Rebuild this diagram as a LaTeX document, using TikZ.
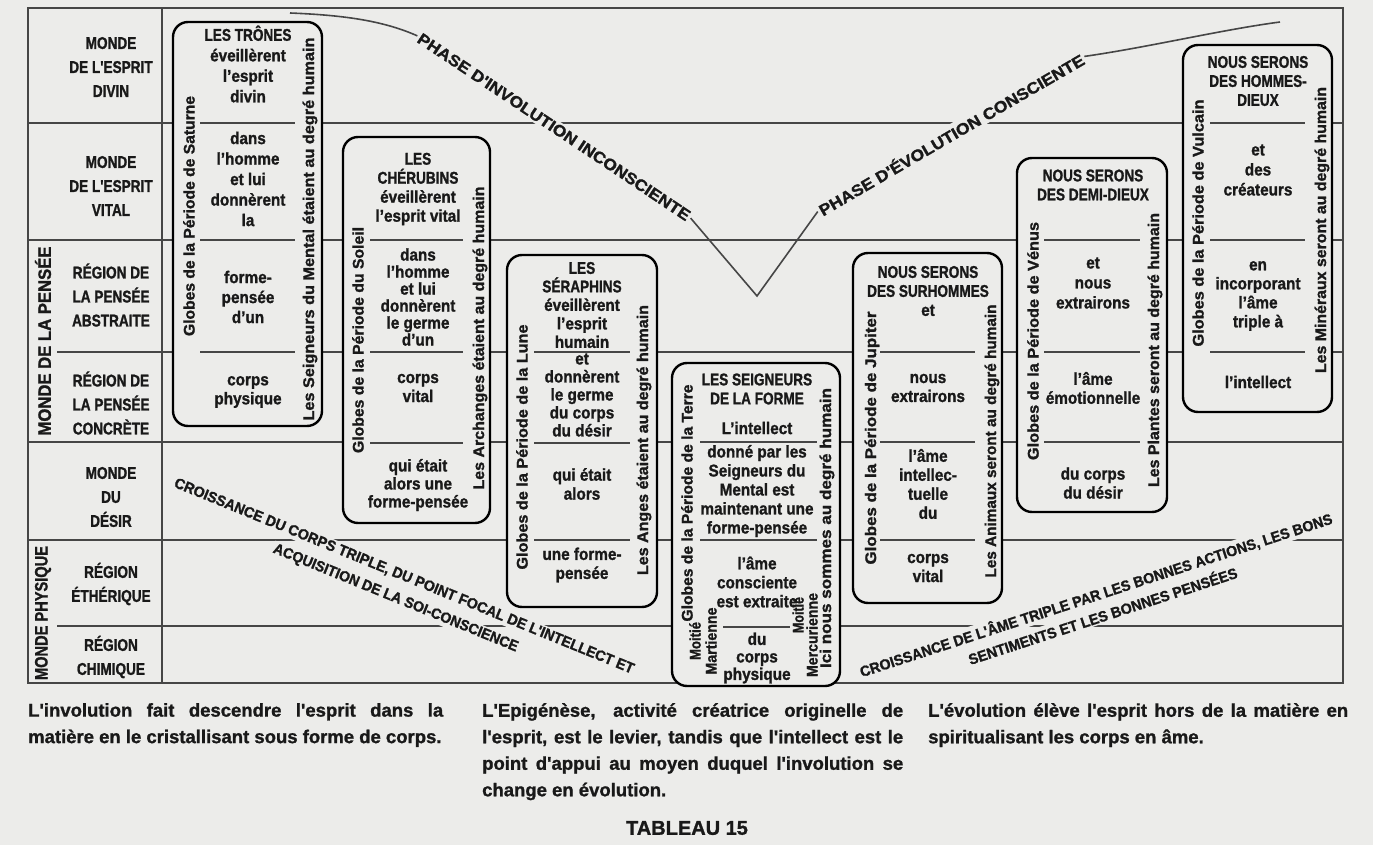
\documentclass[tikz,border=0pt]{standalone}
\usepackage{fontspec}
\setmainfont{Liberation Sans}[FakeStretch=0.9, BoldFeatures={FakeBold=1.2}]
\newfontfamily\capf{Liberation Sans}[FakeStretch=0.8, BoldFeatures={FakeBold=1.2}]
\newfontfamily\plainf{Liberation Sans}[BoldFeatures={FakeBold=1.2}]
\usepackage{graphicx}
\definecolor{bg}{RGB}{236,236,234}
\definecolor{ln}{RGB}{70,70,70}
\definecolor{ink}{RGB}{25,25,25}
\newcommand{\fitw}[2]{\resizebox{#1pt}{\height}{#2}}
\newcommand{\bx}{\bfseries\fontsize{17}{19}\selectfont}
\begin{document}
\begin{tikzpicture}[x=1pt,y=-1pt,
  tline/.style={draw=ln, line width=1.8pt},
  boxst/.style={draw=black, line width=2.4pt, rounded corners=15pt, fill=bg},
  divl/.style={draw=ln, line width=1.6pt},
  btxt/.style={font=\bx, align=center, text=ink, inner sep=0pt},
  vtxt/.style={rotate=90, font=\bfseries\fontsize{15.5}{15.5}\selectfont, text=ink, inner sep=0pt},
  lbl/.style={font=\bfseries\capf\fontsize{17}{24}\selectfont, align=center, text=ink, inner sep=0pt},
  vlbl/.style={rotate=90, font=\bfseries\capf\fontsize{18}{18}\selectfont, text=ink, inner sep=0pt},
  phase/.style={font=\bfseries\capf\fontsize{16}{16}\selectfont, text=ink, fill=bg, inner sep=2pt},
  diag/.style={font=\bfseries\capf\fontsize{15}{15}\selectfont, text=ink, fill=bg, inner sep=1.5pt},
  para/.style={font=\bfseries\plainf\fontsize{18.5}{26.5}\selectfont, text=ink, align=justify, inner sep=0pt, anchor=north west},
  arm/.style={draw=ln, line width=1.6pt}
]
\path[fill=bg] (0,0) rectangle (1373,845);
\useasboundingbox (0,0) rectangle (1373,845);

% table grid
\draw[tline] (28,8) rectangle (1343,683);
\draw[tline] (162,8) -- (162,683);
\foreach \yy in {123,240,442,540} {\draw[tline] (28,\yy) -- (1343,\yy);}
\foreach \yy in {352,626} {\draw[tline] (57,\yy) -- (1343,\yy);}

% left labels
\node[lbl] (l1) at (111,67) {MONDE\\DE L'ESPRIT\\DIVIN};
\node[lbl] (l2) at (111,186) {MONDE\\DE L'ESPRIT\\VITAL};
\node[lbl] (l3) at (111,295) {RÉGION DE\\LA PENSÉE\\ABSTRAITE};
\node[lbl] (l4) at (111,403) {RÉGION DE\\LA PENSÉE\\CONCRÈTE};
\node[lbl] (l5) at (111,497) {MONDE\\DU\\DÉSIR};
\node[lbl] (l6) at (111,584) {RÉGION\\ÉTHÉRIQUE};
\node[lbl] (l7) at (111,657) {RÉGION\\CHIMIQUE};
\node[vlbl] (v1) at (43,341) {\fitw{189}{MONDE DE LA PENSÉE}};
\node[vlbl] (v2) at (43,613) {\fitw{134}{MONDE PHYSIQUE}};

% boxes
\path[boxst] (173,22) rectangle (322,426);
\path[boxst] (343,137) rectangle (490,523);
\path[boxst] (507,255) rectangle (657,607);
\path[boxst] (672,363) rectangle (840,686);
\path[boxst] (853,253) rectangle (1002,603);
\path[boxst] (1017,158) rectangle (1167,512);
\path[boxst] (1183,45) rectangle (1332,412);

% inner dividers
\foreach \yy in {123,240,352} {\draw[divl] (200,\yy) -- (295,\yy);}
\foreach \yy in {240,352,443} {\draw[divl] (370,\yy) -- (463,\yy);}
\foreach \yy in {352,443,540} {\draw[divl] (534,\yy) -- (630,\yy);}
\foreach \yy in {442,540} {\draw[divl] (700,\yy) -- (817,\yy);}
\draw[divl] (723,627) -- (790,627);
\foreach \yy in {352,442,540} {\draw[divl] (880,\yy) -- (975,\yy);}
\foreach \yy in {240,352,442} {\draw[divl] (1044,\yy) -- (1140,\yy);}
\foreach \yy in {123,240,352} {\draw[divl] (1210,\yy) -- (1305,\yy);}

% box 1
\node[vtxt] (g1) at (189,216) {\fitw{240}{Globes de la Période de Saturne}};
\node[vtxt] (h1) at (310,229) {\fitw{383}{Les Seigneurs du Mental étaient au degré humain}};
\node[btxt, font=\bfseries\fontsize{17}{20.5}\selectfont] (t1a) at (248,64) {{\capf LES TRÔNES}\\éveillèrent\\l'esprit\\divin};
\node[btxt, font=\bfseries\fontsize{17}{20.5}\selectfont] (t1b) at (248,179) {dans\\l'homme\\et lui\\donnèrent\\la};
\node[btxt, font=\bfseries\fontsize{17}{20}\selectfont] (t1c) at (248,297) {forme-\\pensée\\d'un};
\node[btxt] (t1d) at (248,392) {corps\\physique};

% box 2
\node[vtxt] (g2) at (358,340) {\fitw{226}{Globes de la Période du Soleil}};
\node[vtxt] (h2) at (480,338) {\fitw{303}{Les Archanges étaient au degré humain}};
\node[btxt] (t2a) at (418,189) {{\capf LES}\\{\capf CHÉRUBINS}\\éveillèrent\\l'esprit vital};
\node[btxt, font=\bfseries\fontsize{17}{17}\selectfont] (t2b) at (418,297) {dans\\l'homme\\et lui\\donnèrent\\le germe\\d'un};
\node[btxt] (t2c) at (418,388) {corps\\vital};
\node[btxt, font=\bfseries\fontsize{17}{18}\selectfont] (t2d) at (418,485) {qui était\\alors une\\forme-pensée};

% box 3
\node[vtxt] (g3) at (522,447) {\fitw{245}{Globes de la Période de la Lune}};
\node[vtxt] (h3) at (644,440) {\fitw{270}{Les Anges étaient au degré humain}};
\node[btxt, font=\bfseries\fontsize{17}{18.5}\selectfont] (t3a) at (582,305) {{\capf LES}\\{\capf SÉRAPHINS}\\éveillèrent\\l'esprit\\humain};
\node[btxt, font=\bfseries\fontsize{17}{18}\selectfont] (t3b) at (582,395) {et\\donnèrent\\le germe\\du corps\\du désir};
\node[btxt] (t3c) at (582,484) {qui était\\alors};
\node[btxt] (t3d) at (582,565) {une forme-\\pensée};

% box 4
\node[vtxt] (g4) at (687,503) {\fitw{237}{Globes de la Période de la Terre}};
\node[vtxt] (h4) at (827,528) {\fitw{280}{Ici nous sommes au degré humain}};
\node[vtxt] (m1) at (695,641) {\fitw{38}{Moitié}};
\node[vtxt] (m2) at (711,641) {\fitw{67}{Martienne}};
\node[vtxt] (m3) at (798,615) {\fitw{36}{Moitié}};
\node[vtxt] (m4) at (812,635) {\fitw{84}{Mercurienne}};
\node[btxt] (t4a) at (757,389) {{\capf LES SEIGNEURS}\\{\capf DE LA FORME}};
\node[btxt] (t4e) at (757,428) {L'intellect};
\node[btxt] (t4b) at (757,491) {donné par les\\Seigneurs du\\Mental est\\maintenant une\\forme-pensée};
\node[btxt] (t4c) at (757,582) {l'âme\\consciente\\est extraite};
\node[btxt, font=\bfseries\fontsize{17}{17.5}\selectfont] (t4d) at (757,658) {du\\corps\\physique};

% box 5
\node[vtxt] (g5) at (872,438) {\fitw{253}{Globes de la Période de Jupiter}};
\node[vtxt] (h5) at (992,441) {\fitw{273}{Les Animaux seront au degré humain}};
\node[btxt] (t5a) at (928,291) {{\capf NOUS SERONS}\\{\capf DES SURHOMMES}\\et};
\node[btxt] (t5b) at (928,388) {nous\\extrairons};
\node[btxt] (t5c) at (928,484) {l'âme\\intellec-\\tuelle\\du};
\node[btxt] (t5d) at (928,568) {corps\\vital};

% box 6
\node[vtxt] (g6) at (1033,341) {\fitw{238}{Globes de la Période de Vénus}};
\node[vtxt] (h6) at (1155,350) {\fitw{274}{Les Plantes seront au degré humain}};
\node[btxt] (t6a) at (1093,185) {{\capf NOUS SERONS}\\{\capf DES DEMI-DIEUX}};
\node[btxt, font=\bfseries\fontsize{17}{20}\selectfont] (t6b) at (1093,283) {et\\nous\\extrairons};
\node[btxt] (t6c) at (1093,388) {l'âme\\émotionnelle};
\node[btxt] (t6d) at (1093,483) {du corps\\du désir};

% box 7
\node[vtxt] (g7) at (1198,223) {\fitw{247}{Globes de la Période de Vulcain}};
\node[vtxt] (h7) at (1322,230) {\fitw{286}{Les Minéraux seront au degré humain}};
\node[btxt] (t7a) at (1258,81) {{\capf NOUS SERONS}\\{\capf DES HOMMES-}\\{\capf DIEUX}};
\node[btxt, font=\bfseries\fontsize{17}{20}\selectfont] (t7b) at (1258,170) {et\\des\\créateurs};
\node[btxt] (t7c) at (1258,296) {en\\incorporant\\l'âme\\triple à};
\node[btxt] (t7d) at (1258,382) {l'intellect};

% phases
\node[phase, rotate=-33.7] (ph1) at (554,127) {\fitw{324}{PHASE D'INVOLUTION INCONSCIENTE}};
\node[phase, rotate=30.2] (ph2) at (951,134) {\fitw{304}{PHASE D'ÉVOLUTION CONSCIENTE}};
\coordinate (c0) at (290,13);
\coordinate (vt) at (757,296);
\coordinate (c3) at (1280,22);
\draw[arm] (c0) .. controls (340,15) and (382,20) .. (ph1.west);
\draw[arm] (ph1.east) -- (vt) -- (ph2.west);
\draw[arm] (ph2.east) .. controls (1150,47) and (1220,30) .. (c3);

% diagonal captions
\node[diag, rotate=-22.2] (d1a) at (404,576.5) {\fitw{495}{CROISSANCE DU CORPS TRIPLE, DU POINT FOCAL DE L'INTELLECT ET}};
\node[diag, rotate=-22.2] (d1b) at (395.5,598.5) {\fitw{263}{ACQUISITION DE LA SOI-CONSCIENCE}};
\node[diag, rotate=18.1] (d2a) at (1096,595) {\fitw{496}{CROISSANCE DE L'ÂME TRIPLE PAR LES BONNES ACTIONS, LES BONS}};
\node[diag, rotate=18.1] (d2b) at (1102.5,615) {\fitw{282}{SENTIMENTS ET LES BONNES PENSÉES}};

% bottom paragraphs
\node[para, text width=415pt] (p1) at (28,703) {L'involution fait descendre l'esprit dans la\linebreak matière en le cristallisant sous forme de corps.};
\node[para, text width=421pt] (p2) at (482,703) {L'Epigénèse, activité créatrice originelle de\linebreak l'esprit, est le levier, tandis que l'intellect est le\linebreak point d'appui au moyen duquel l'involution se\linebreak change en évolution.};
\node[para, text width=420pt] (p3) at (928,703) {L'évolution élève l'esprit hors de la matière en\linebreak spiritualisant les corps en âme.};
\node[font=\bfseries\plainf\fontsize{20}{20}\selectfont, text=ink] (tab) at (687,828) {TABLEAU 15};
\end{tikzpicture}
\end{document}
